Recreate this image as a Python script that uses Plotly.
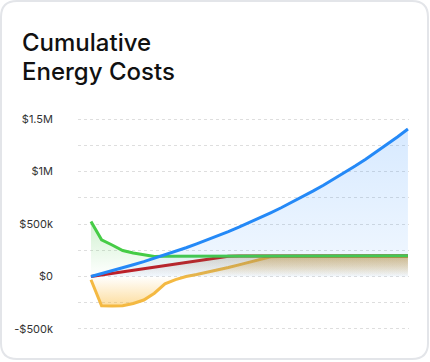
import plotly.graph_objects as go

# ---- data (year index 0..30, values in $) ----
years = list(range(31))
blue_k = [0, 26, 53, 82, 111, 141, 173, 205, 239, 274, 311, 348, 388, 428, 470, 514,
          559, 607, 655, 706, 759, 813, 870, 929, 989, 1052, 1118, 1186, 1256, 1330, 1405]
green_k = [524, 349, 300, 247, 224, 208, 191, 192, 192, 193, 193, 193, 194, 194, 194, 194,
           195, 195, 195, 195, 195, 196, 196, 196, 196, 196, 197, 197, 197, 197, 197]
red_k = [0, 15, 30, 45, 60, 75, 90, 105, 120, 135, 150, 165, 180, 192, 194, 194,
         195, 195, 195, 195, 195, 196, 196, 196, 196, 196, 197, 197, 197, 197, 197]
yellow_k = [-32, -280, -282, -280, -258, -225, -160, -70, -30, 0, 18, 38, 60, 85, 110, 138,
            165, 188, 189, 189, 189, 190, 190, 190, 190, 190, 191, 191, 191, 191, 191]

tick_vals = [-500000, -250000, 0, 250000, 500000, 750000, 1000000, 1250000, 1500000]
tick_text = ["-$500k", "", "$0", "", "$500k", "", "$1M", "", "$1.5M"]

blue = [v * 1000 for v in blue_k]
green = [v * 1000 for v in green_k]
red = [v * 1000 for v in red_k]
yellow = [v * 1000 for v in yellow_k]

W, H = 430, 362
L, R, T, B = 78, 21, 117, 31
PW, PH = W - L - R, H - T - B


def px(x):
    return (x - L) / PW


def py(y):
    return 1 - (y - T) / PH


fig = go.Figure()

LW = 3
y_zero = (0 - min(yellow)) / (max(yellow) - min(yellow))
fig.add_trace(go.Scatter(
    x=years, y=yellow, mode="lines", line=dict(color="#f4b942", width=LW),
    fill="tozeroy",
    fillgradient=dict(type="vertical", start=min(yellow), stop=max(yellow),
                      colorscale=[[0, "rgba(250,180,40,0.45)"],
                                  [y_zero, "rgba(250,180,40,0.0)"],
                                  [1, "rgba(235,165,45,0.42)"]]),
    hoverinfo="skip"))
fig.add_trace(go.Scatter(
    x=years, y=red, mode="lines", line=dict(color="#c8161a", width=LW),
    fill="tozeroy",
    fillgradient=dict(type="vertical", start=0, stop=max(red),
                      colorscale=[[0, "rgba(170,60,40,0.0)"], [1, "rgba(170,60,40,0.2)"]]),
    hoverinfo="skip"))
fig.add_trace(go.Scatter(
    x=years, y=green, mode="lines", line=dict(color="#46cc46", width=LW),
    fill="tozeroy",
    fillgradient=dict(type="vertical", start=0, stop=max(green),
                      colorscale=[[0, "rgba(70,200,70,0.0)"], [1, "rgba(70,200,70,0.25)"]]),
    hoverinfo="skip"))
fig.add_trace(go.Scatter(
    x=years, y=blue, mode="lines", line=dict(color="#2489f7", width=LW),
    fill="tozeroy",
    fillgradient=dict(type="vertical", start=0, stop=max(blue),
                      colorscale=[[0, "rgba(33,136,255,0.06)"], [1, "rgba(33,136,255,0.18)"]]),
    hoverinfo="skip"))

# card border (rounded)
x0, y0, x1, y1, r = 1, 1, 428, 359, 16
path = (f"M {px(x0 + r)} {py(y0)} L {px(x1 - r)} {py(y0)} "
        f"Q {px(x1)} {py(y0)} {px(x1)} {py(y0 + r)} L {px(x1)} {py(y1 - r)} "
        f"Q {px(x1)} {py(y1)} {px(x1 - r)} {py(y1)} L {px(x0 + r)} {py(y1)} "
        f"Q {px(x0)} {py(y1)} {px(x0)} {py(y1 - r)} L {px(x0)} {py(y0 + r)} "
        f"Q {px(x0)} {py(y0)} {px(x0 + r)} {py(y0)} Z")
fig.add_shape(type="path", path=path, xref="paper", yref="paper",
              line=dict(color="#e3e5e9", width=2), layer="below")

title_font = dict(family="Inter, sans-serif", size=24, color="#111111", weight=500)
fig.add_annotation(text="Cumulative", xref="paper", yref="paper", x=px(20), y=py(42),
                   xanchor="left", yanchor="middle", showarrow=False, font=title_font)
fig.add_annotation(text="Energy Costs", xref="paper", yref="paper", x=px(20), y=py(71),
                   xanchor="left", yanchor="middle", showarrow=False, font=title_font)

fig.update_layout(
    width=W, height=H, margin=dict(l=L, r=R, t=T, b=B),
    paper_bgcolor="white", plot_bgcolor="rgba(0,0,0,0)",
    showlegend=False, hovermode=False,
    xaxis=dict(range=[-1.23, 30.1], showgrid=False, zeroline=False,
               showticklabels=False, showline=False, fixedrange=True),
    yaxis=dict(range=[-520000, 1520000], tickvals=tick_vals, ticktext=tick_text,
               showgrid=True, gridcolor="#dedede", gridwidth=1, griddash="3px,3px",
               zeroline=False, showline=False, ticks="",
               ticklabelstandoff=24,
               tickfont=dict(family="Inter, sans-serif", size=11, color="#333333"),
               fixedrange=True),
)

fig.write_html("out.html", config={"displayModeBar": False},
               post_script="document.body.style.margin='0';")
